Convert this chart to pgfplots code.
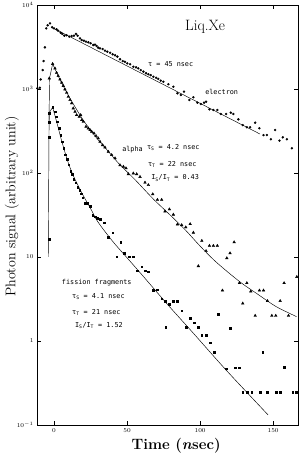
\documentclass[border=0pt]{standalone}
\usepackage{fontspec}
\usepackage{pgfplots}
\usepackage{pgfplotstable}
\pgfplotsset{compat=1.18}
\newfontfamily\annot{DejaVu Sans Mono}

\pgfplotstableread{
x y
-11.4 1020
-9.6 1035
-9.1 1300
-7.7 1680
-7.1 2150
-6.2 3130
-5.3 5270
-4.3 5730
-2.7 6050
-1.2 5430
0 5270
1.8 5130
2.9 4940
4.6 4680
5.7 4520
7.1 4310
8.7 4360
10.5 4200
12.1 4280
13.7 4310
15.1 4520
16.2 4310
17.8 4010
19.0 3830
20.5 3760
21.9 3660
23.5 3600
25.1 3500
26.9 3340
28.1 3370
29.2 3250
30.3 3100
31.5 3050
33.3 2990
34.9 2860
36.5 2780
38.4 2700
40.2 2590
41.8 2520
43.4 2430
45.2 2260
47.1 2150
48.6 2110
50.2 2020
52.1 1970
54.3 1840
56.2 1810
57.7 1760
59.4 1680
61.2 1610
63.0 1540
64.6 1500
66.2 1460
68.0 1400
69.9 1360
71.4 1320
73.1 1260
74.9 1220
78.3 1140
81.7 1065
84.5 889
86.8 849
89.0 929
92.7 740
95.4 796
98.2 687
100.5 663
102.7 687
104.1 706
106.4 573
109.1 562
111.8 562
114.2 504
117.8 504
121.0 522
122.8 504
126.2 435
129.2 372
132.0 350
134.2 350
137.7 397
140.6 341
143.4 283
145.7 283
148.4 252
151.4 325
154.3 243
156.6 266
159.4 252
162.8 197
}\electron

\pgfplotstableread{
x y
-3.2 1340
-0.9 1990
0.7 1760
1.8 1560
2.9 1430
4.1 1300
5.3 1190
6.4 1090
7.5 991
8.7 903
9.8 809
11.0 740
12.1 676
13.2 589
14.4 537
15.5 490
17.3 468
18.3 490
19.0 427
20.1 408
21.9 356
23.5 340
24.7 325
25.8 311
27.4 297
28.8 276
30.3 259
31.5 236
33.3 215
34.9 202
37.2 179
39.5 164
41.8 150
45.2 124
47.5 119
49.3 114
50.9 97
54.3 99
56.6 97
58.9 90
62.3 77
64.6 72
67.6 56
70.8 48
73.7 48
76.0 35
79.0 37
81.7 32
84.5 24.5
87.4 24
90.2 22.6
93.2 24.7
95.4 19.5
98.8 7.8
101.2 15.6
104.1 11.8
106.4 13.6
109.1 13.6
111.8 13.6
115.3 4.0
118.3 9.7
120.5 11.1
123.3 15
126.9 4.9
129.2 2.8
132.0 4.9
134.7 3.9
137.7 2.0
140.6 4.0
143.4 4.0
146.1 3.0
149.1 2.0
151.8 2.0
154.8 3.0
157.5 4.9
160.5 2.0
166.2 5.8
}\alpha

\pgfplotstableread{
x y
-3.4 16.3
-3.2 266
-3.2 400
-3.2 513
-0.9 605
0.7 537
1.4 468
2.3 408
3.6 340
4.6 283
5.5 236
6.8 197
7.8 166
9.0 145
10.2 125
11.4 105
12.4 96
13.6 85
14.8 77
16.2 68
17.6 62
18.6 57
19.6 51
21.2 44
22.8 43.6
24.7 40
26.5 31.6
28.1 30.2
29.7 28.8
31.5 28
34.2 25.6
37.2 17.1
40.2 19.5
43.0 10.1
45.7 15
48.0 11.1
51.4 10.1
54.3 10.1
57.1 6.9
60.1 7.7
62.3 6.9
64.6 6.7
68.0 4.0
70.8 4.1
73.7 3.2
76.0 3.0
76.5 1.46
78.8 2.75
81.7 3.0
84.5 3.0
87.4 2.3
90.4 1.46
93.2 1.86
95.9 1.65
98.8 1.46
101.2 1.18
104.1 1.18
106.8 0.955
109.6 0.73
112.3 2.1
117.8 0.47
120.5 1.42
124.0 0.48
126.7 0.48
129.2 0.245
132.4 0.245
135.4 0.245
141.1 0.245
142.9 0.73
146.1 0.245
152.0 0.245
154.8 0.245
157.5 0.49
163.5 0.245
165.8 0.245
}\fission

\begin{document}
\begin{tikzpicture}
\useasboundingbox (0,0) rectangle (299pt,461pt);
\begin{axis}[
  at={(37pt,36pt)}, anchor=south west,
  scale only axis, width=261pt, height=420pt,
  ymode=log, xmin=-11.6, xmax=167, ymin=0.1, ymax=10000,
  xtick={0,50,100,150},
  ytick={0.1,1,10,100,1000,10000},
  yticklabels={$10^{-1}$,$1$,$10$,$10^2$,$10^3$,$10^4$},
  yminorticks=false,
  tick align=inside, major tick length=4pt,
  tick style={black, line width=0.5pt},
  axis line style={line width=0.8pt},
  ticklabel style={font=\fontsize{6.3}{7}\selectfont},
  xlabel={\textbf{Time (\textit{n}sec)}},
  xlabel style={font=\fontsize{15}{17}\selectfont, at={(axis description cs:0.533,-0.05)}, anchor=center},
  ylabel={Photon signal (arbitrary unit)},
  ylabel style={font=\fontsize{14}{16}\selectfont, at={(axis description cs:-0.096,0.52)}, anchor=center},
]
\addplot[only marks, mark=*, mark size=1.0pt, black] table {\electron};
\addplot[only marks, mark=triangle*, mark size=1.5pt, black] table {\alpha};
\addplot[only marks, mark=square*, mark size=0.8pt, black] table {\fission};

% fitted curves
\addplot[black, line width=0.45pt] coordinates {(0,5250) (141,291)};
\addplot[black, line width=0.45pt] coordinates {(-3.4,400) (-3.0,1350) (-0.9,1990)};
\addplot[black, line width=0.45pt, smooth] coordinates {
(-0.9,1990) (2,1549) (5,1202) (10,832) (15,589) (20,427) (25,324) (30,251)
(36,191) (45,126) (55,85) (68,49) (80,31) (90,20.9) (100,13.5) (111,8.7)
(127,5.1) (140,3.55) (152,2.57) (166,1.95)};
\addplot[black, line width=0.45pt] coordinates {(-3.9,10) (-3.3,520) (-0.9,605)};
\addplot[black, line width=0.45pt, smooth] coordinates {
(-0.9,605) (2,398) (5,251) (8,166) (10,129) (13,95) (16,74) (20,54) (25,38)
(30,26.3) (40,15.5) (50,9.8) (60,6.2) (78,2.69) (95,1.26) (118,0.447) (146.5,0.132)};

% annotations
\node[anchor=center, font=\fontsize{15}{17}\selectfont] at (rel axis cs:0.644,0.948) {Liq.Xe};
\node[anchor=west, inner sep=0pt, font=\annot\fontsize{6.8}{8}\selectfont] at (rel axis cs:0.425,0.860) {τ = 45 nsec};
\node[anchor=west, inner sep=0pt, font=\annot\fontsize{6.8}{8}\selectfont] at (rel axis cs:0.644,0.793) {electron};
\node[anchor=west, inner sep=0pt, font=\annot\fontsize{6.8}{8}\selectfont] at (rel axis cs:0.326,0.655) {alpha};
\node[anchor=west, inner sep=0pt, font=\annot\fontsize{6.8}{8}\selectfont] at (rel axis cs:0.421,0.660) {τ\textsubscript{S} = 4.2 nsec};
\node[anchor=west, inner sep=0pt, font=\annot\fontsize{6.8}{8}\selectfont] at (rel axis cs:0.425,0.621) {τ\textsubscript{T} = 22 nsec};
\node[anchor=west, inner sep=0pt, font=\annot\fontsize{6.8}{8}\selectfont] at (rel axis cs:0.437,0.588) {I\textsubscript{S}/I\textsubscript{T} = 0.43};
\node[anchor=west, inner sep=0pt, font=\annot\fontsize{6.8}{8}\selectfont] at (rel axis cs:0.095,0.338) {fission fragments};
\node[anchor=west, inner sep=0pt, font=\annot\fontsize{6.8}{8}\selectfont] at (rel axis cs:0.134,0.305) {τ\textsubscript{S} = 4.1 nsec};
\node[anchor=west, inner sep=0pt, font=\annot\fontsize{6.8}{8}\selectfont] at (rel axis cs:0.134,0.269) {τ\textsubscript{T} = 21 nsec};
\node[anchor=west, inner sep=0pt, font=\annot\fontsize{6.8}{8}\selectfont] at (rel axis cs:0.145,0.236) {I\textsubscript{S}/I\textsubscript{T} = 1.52};
\end{axis}
\end{tikzpicture}
\end{document}
